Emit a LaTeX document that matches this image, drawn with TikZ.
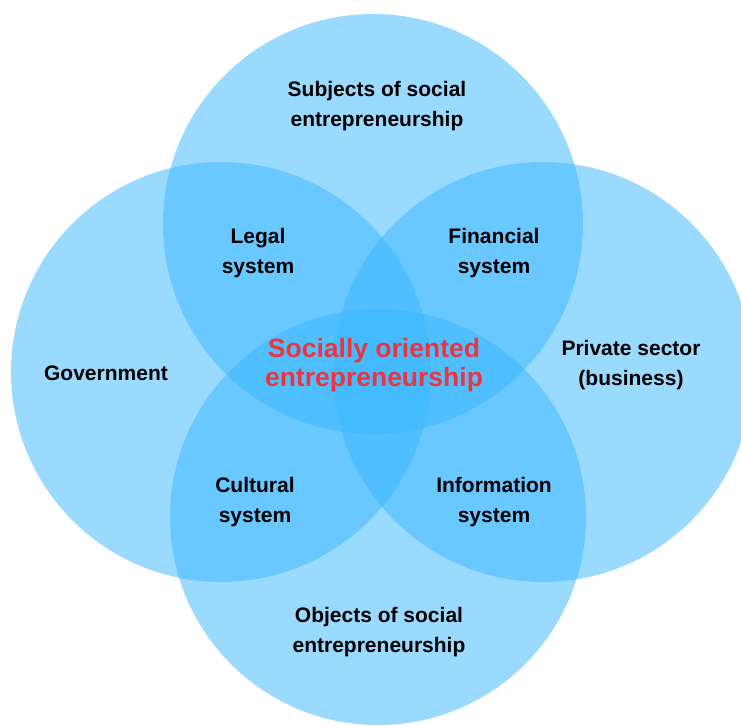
\documentclass[tikz,border=0pt]{standalone}
\usepackage{fontspec}
\setmainfont{Liberation Sans}
\usepackage{tikz}
\definecolor{V}{RGB}{56,182,255}
\definecolor{R}{RGB}{236,52,62}
\newcommand{\drawdisc}{\fill[V, fill opacity=.5]}
\tikzset{
  lbl/.style={align=center, text=black, font=\bfseries\fontsize{21}{30}\selectfont},
  core/.style={align=center, text=R, font=\bfseries\fontsize{26.5}{29}\selectfont}
}

\begin{document}
\begin{tikzpicture}[x=1pt, y=-1pt]
\useasboundingbox (0,0) rectangle (741,725);
\clip (0,0) rectangle (741,725);
% the four discs
\drawdisc (373,224) circle (210);
\drawdisc (221,372) circle (210);
\drawdisc (543,372) circle (210);
\drawdisc (378,517) circle (208);
% labels
\node[lbl] (subj) at (377,106) {Subjects of social\\entrepreneurship};
\node[lbl] (legal) at (258,253) {Legal\\system};
\node[lbl] (fin) at (494,253) {Financial\\system};
\node[lbl] (gov) at (106,373) {Government};
\node[core] (soe) at (374,365) {Socially oriented\\entrepreneurship};
\node[lbl] (priv) at (631,365) {Private sector\\(business)};
\node[lbl] (cult) at (255,502) {Cultural\\system};
\node[lbl] (info) at (494,502) {Information\\system};
\node[lbl] (obj) at (379,632) {Objects of social\\entrepreneurship};
\end{tikzpicture}
\end{document}
